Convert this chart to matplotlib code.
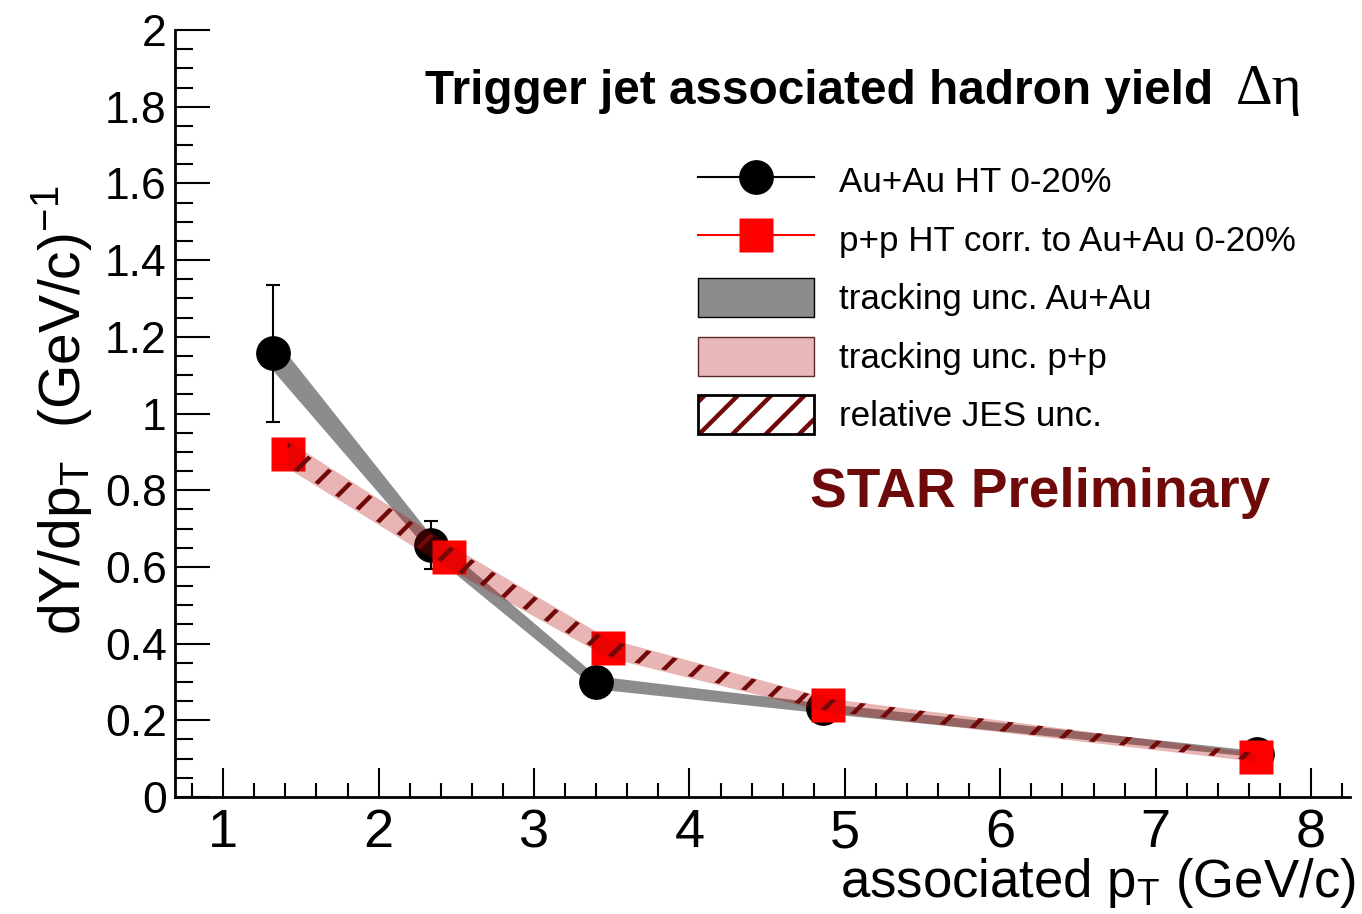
import matplotlib
matplotlib.use("Agg")
import matplotlib.pyplot as plt
import numpy as np
from matplotlib.lines import Line2D
from matplotlib.patches import Patch
from matplotlib.legend_handler import HandlerTuple
from matplotlib.ticker import MultipleLocator

plt.rcParams['font.family'] = ['Liberation Sans', 'DejaVu Sans']
plt.rcParams['mathtext.fontset'] = 'custom'
plt.rcParams['mathtext.rm'] = 'Liberation Sans'
plt.rcParams['mathtext.it'] = 'Liberation Sans'
plt.rcParams['hatch.linewidth'] = 3.2

# Au+Au HT 0-20%
au_x = [1.32, 2.34, 3.40, 4.86, 7.65]
au_y = [1.157, 0.657, 0.299, 0.232, 0.113]
au_err = [0.179, 0.063, 0.02, 0.015, 0.01]
au_trk = [0.045, 0.024, 0.017, 0.013, 0.008]

# p+p HT corr. to Au+Au 0-20%
pp_x = [1.415, 2.455, 3.474, 4.89, 7.646]
pp_y = [0.894, 0.627, 0.389, 0.240, 0.104]
pp_trk = [0.036, 0.032, 0.025, 0.018, 0.011]
pp_jes = [0.030, 0.027, 0.021, 0.016, 0.010]

jes_col = '#720808'

fig = plt.figure(figsize=(13.62, 9.14), dpi=100)
ax = fig.add_axes([175 / 1362, 117 / 914, 1175 / 1362, 767 / 914])

au_x, au_y, au_trk = np.array(au_x), np.array(au_y), np.array(au_trk)
pp_x, pp_y = np.array(pp_x), np.array(pp_y)
pp_trk, pp_jes = np.array(pp_trk), np.array(pp_jes)

ax.fill_between(au_x, au_y - au_trk, au_y + au_trk, color='#8c8c8c', lw=0, zorder=1)
ax.errorbar(au_x, au_y, yerr=au_err, fmt='o', color='black', ms=24,
            elinewidth=1.5, capsize=5, capthick=1.5, zorder=2)
ax.plot(pp_x, pp_y, 's', color='#ff0000', ms=24, mec='none', zorder=3)
ax.fill_between(pp_x, pp_y - pp_trk, pp_y + pp_trk, color=(0.70, 0.03, 0.03),
                alpha=0.3, lw=0, zorder=4)
ax.fill_between(pp_x, pp_y - pp_jes, pp_y + pp_jes, facecolor='none',
                edgecolor=jes_col, hatch='/', lw=0, zorder=5)

ax.set_xlim(0.69, 8.25)
ax.set_ylim(0, 2)
for s in ['top', 'right']:
    ax.spines[s].set_visible(False)
for s in ['left', 'bottom']:
    ax.spines[s].set_linewidth(2)

ax.xaxis.set_major_locator(MultipleLocator(1))
ax.xaxis.set_minor_locator(MultipleLocator(0.2))
ax.yaxis.set_minor_locator(MultipleLocator(0.05))
ax.set_yticks(np.arange(0, 2.01, 0.2))
ax.set_yticklabels(['0', '0.2', '0.4', '0.6', '0.8', '1', '1.2', '1.4', '1.6', '1.8', '2'])
ax.tick_params(axis='x', which='major', direction='in', length=21, width=1.5,
               labelsize=39, pad=8)
ax.tick_params(axis='x', which='minor', direction='in', length=10, width=1.5)
ax.tick_params(axis='y', which='major', direction='in', length=25, width=1.5,
               labelsize=32, pad=6)
ax.tick_params(axis='y', which='minor', direction='in', length=13, width=1.5)

fig.text(62 / 1362, 1 - 410 / 914, r'dY/dp$_{\rm T}$  (GeV/c)$^{-1}$',
         rotation=90, ha='center', va='center', fontsize=41)
fig.text(1356 / 1362, 1 - 897 / 914, r'associated p$_{\rm T}$ (GeV/c)',
         ha='right', va='baseline', fontsize=38)

fig.text(425 / 1362, 1 - 104 / 914, 'Trigger jet associated hadron yield',
         fontsize=34.4, fontweight='bold', ha='left', va='baseline')
fig.text(1236 / 1362, 1 - 104 / 914, 'Δη', fontsize=41,
         family=['Liberation Serif', 'DejaVu Serif'], ha='left', va='baseline')
fig.text(810 / 1362, 1 - 507 / 914, 'STAR Preliminary', fontsize=39.6,
         fontweight='bold', color='#6e0a0a', ha='left', va='baseline')

h_au = Line2D([], [], color='black', marker='o', ms=24, lw=1.5)
h_pp = Line2D([], [], color='#ff0000', marker='s', ms=24, lw=1.5, mec='none')
h_gray = Patch(facecolor='#8c8c8c', edgecolor='black', lw=1)
h_pink = Patch(facecolor='#e8b7b7', edgecolor='#5a2a2a', lw=1)
h_jes = (Patch(facecolor='white', edgecolor=jes_col, hatch='/', lw=0),
         Patch(facecolor='none', edgecolor='black', lw=2))
leg = ax.legend([h_au, h_pp, h_gray, h_pink, h_jes],
                ['Au+Au HT 0-20%', 'p+p HT corr. to Au+Au 0-20%',
                 'tracking unc. Au+Au', 'tracking unc. p+p', 'relative JES unc.'],
                handler_map={tuple: HandlerTuple(ndivide=1)},
                loc='upper left', bbox_to_anchor=(698 / 1362, 1 - 161 / 914),
                bbox_transform=fig.transFigure, frameon=False, borderpad=0,
                borderaxespad=0, handlelength=3.3, handleheight=1.35,
                handletextpad=0.72, labelspacing=0.55,
                prop={'family': ['Liberation Sans'], 'size': 25.2})

fig.savefig('out.png', dpi=100)
